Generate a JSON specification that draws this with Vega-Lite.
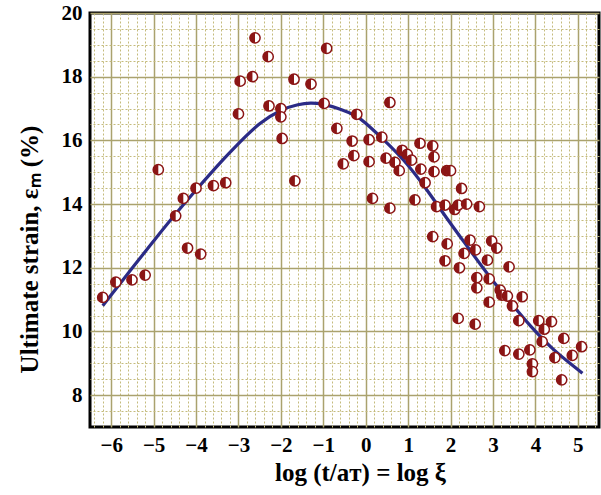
{
 "$schema": "https://vega.github.io/schema/vega-lite/v6.json",
 "width": 509, "height": 414,
 "autosize": {"type": "none"},
 "padding": {"left": 90, "top": 13, "right": 2, "bottom": 68},
 "background": "white",
 "config": {
  "view": {"stroke": "black", "strokeWidth": 3},
  "axis": {"labelFont": "Liberation Serif", "titleFont": "Liberation Serif", "labelFontWeight": "bold", "titleFontWeight": "bold", "labelColor": "black", "titleColor": "black"}
 },
 "datasets": {
  "pts": [
   {"x": -2.61, "y": 19.22}, {"x": -2.96, "y": 17.86}, {"x": -2.67, "y": 18.0}, {"x": -3.0, "y": 16.83},
   {"x": -4.89, "y": 15.08}, {"x": -4.0, "y": 14.5}, {"x": -3.59, "y": 14.58}, {"x": -3.3, "y": 14.67},
   {"x": -4.3, "y": 14.18}, {"x": -4.48, "y": 13.63}, {"x": -6.2, "y": 11.07}, {"x": -5.89, "y": 11.55},
   {"x": -5.51, "y": 11.62}, {"x": -5.2, "y": 11.77}, {"x": -4.2, "y": 12.62}, {"x": -3.89, "y": 12.43},
   {"x": -2.3, "y": 18.63}, {"x": -0.92, "y": 18.89}, {"x": -1.69, "y": 17.92}, {"x": -1.29, "y": 17.77},
   {"x": -2.28, "y": 17.08}, {"x": -2.0, "y": 17.0}, {"x": -2.0, "y": 16.74}, {"x": -0.98, "y": 17.16},
   {"x": 0.57, "y": 17.19}, {"x": -0.21, "y": 16.82}, {"x": -0.68, "y": 16.38}, {"x": -1.97, "y": 16.06},
   {"x": -0.32, "y": 15.98}, {"x": 0.08, "y": 16.02}, {"x": 0.38, "y": 16.1}, {"x": 1.28, "y": 15.91},
   {"x": -0.28, "y": 15.52}, {"x": -0.53, "y": 15.26}, {"x": 0.08, "y": 15.33}, {"x": 0.48, "y": 15.44},
   {"x": 0.86, "y": 15.69}, {"x": 0.98, "y": 15.56}, {"x": 1.08, "y": 15.38}, {"x": 0.69, "y": 15.31},
   {"x": 0.79, "y": 15.05}, {"x": 1.3, "y": 15.1}, {"x": -1.67, "y": 14.73}, {"x": 0.16, "y": 14.18},
   {"x": 1.16, "y": 14.13}, {"x": 0.57, "y": 13.87},
   {"x": 1.58, "y": 15.83}, {"x": 1.61, "y": 15.48}, {"x": 1.61, "y": 15.02}, {"x": 1.91, "y": 15.05},
   {"x": 2.0, "y": 15.05}, {"x": 1.4, "y": 14.67}, {"x": 2.26, "y": 14.49}, {"x": 1.67, "y": 13.92},
   {"x": 1.87, "y": 13.97}, {"x": 2.1, "y": 13.83}, {"x": 2.18, "y": 13.97}, {"x": 2.38, "y": 14.0},
   {"x": 2.68, "y": 13.92},
   {"x": 1.58, "y": 12.98}, {"x": 1.92, "y": 12.75}, {"x": 2.46, "y": 12.87}, {"x": 2.97, "y": 12.84},
   {"x": 3.09, "y": 12.62}, {"x": 2.32, "y": 12.45}, {"x": 2.59, "y": 12.56}, {"x": 1.87, "y": 12.22},
   {"x": 2.87, "y": 12.24}, {"x": 2.21, "y": 12.0}, {"x": 3.38, "y": 12.03}, {"x": 2.62, "y": 11.69},
   {"x": 2.91, "y": 11.65}, {"x": 2.62, "y": 11.37}, {"x": 3.17, "y": 11.3}, {"x": 3.21, "y": 11.14},
   {"x": 3.34, "y": 11.11}, {"x": 3.69, "y": 11.09}, {"x": 2.91, "y": 10.92}, {"x": 3.46, "y": 10.8},
   {"x": 2.18, "y": 10.41}, {"x": 2.58, "y": 10.23}, {"x": 3.61, "y": 10.34}, {"x": 4.08, "y": 10.34},
   {"x": 4.38, "y": 10.31}, {"x": 4.21, "y": 10.07}, {"x": 4.16, "y": 9.68}, {"x": 4.67, "y": 9.78},
   {"x": 5.09, "y": 9.52}, {"x": 4.87, "y": 9.25}, {"x": 4.46, "y": 9.18}, {"x": 3.28, "y": 9.4},
   {"x": 3.61, "y": 9.29}, {"x": 3.87, "y": 9.42}, {"x": 3.93, "y": 8.98}, {"x": 3.93, "y": 8.74},
   {"x": 4.62, "y": 8.48}
  ],
  "curve": [
   {"x": -6.2, "y": 10.81}, {"x": -5.6, "y": 11.83}, {"x": -5.0, "y": 12.84}, {"x": -4.6, "y": 13.5},
   {"x": -4.0, "y": 14.44}, {"x": -3.4, "y": 15.34}, {"x": -3.0, "y": 15.9}, {"x": -2.5, "y": 16.52},
   {"x": -2.0, "y": 16.94}, {"x": -1.6, "y": 17.12}, {"x": -1.3, "y": 17.17}, {"x": -1.0, "y": 17.13},
   {"x": -0.6, "y": 16.98}, {"x": -0.25, "y": 16.78}, {"x": 0.0, "y": 16.54}, {"x": 0.4, "y": 16.05},
   {"x": 0.9, "y": 15.37}, {"x": 1.4, "y": 14.52}, {"x": 1.9, "y": 13.58}, {"x": 2.4, "y": 12.66},
   {"x": 2.9, "y": 11.76}, {"x": 3.4, "y": 10.93}, {"x": 3.9, "y": 10.15}, {"x": 4.4, "y": 9.47},
   {"x": 4.8, "y": 9.02}, {"x": 5.11, "y": 8.69}
  ]
 },
 "layer": [
  {
   "data": {"name": "pts"},
   "mark": {"type": "point", "opacity": 0},
   "encoding": {
    "x": {"field": "x", "type": "quantitative", "scale": {"domain": [-6.5, 5.5], "nice": false, "zero": false},
     "axis": {"orient": "top", "values": [-6.4,-6.2,-5.8,-5.6,-5.4,-5.2,-4.8,-4.6,-4.4,-4.2,-3.8,-3.6,-3.4,-3.2,-2.8,-2.6,-2.4,-2.2,-1.8,-1.6,-1.4,-1.2,-0.8,-0.6,-0.4,-0.2,0.2,0.4,0.6,0.8,1.2,1.4,1.6,1.8,2.2,2.4,2.6,2.8,3.2,3.4,3.6,3.8,4.2,4.4,4.6,4.8,5.2,5.4],
      "grid": true, "gridColor": "#c4bb7c", "gridDash": [2, 2], "gridWidth": 1, "labels": false, "ticks": false, "domain": false, "title": null}},
    "y": {"field": "y", "type": "quantitative", "scale": {"domain": [7, 20], "nice": false, "zero": false},
     "axis": {"orient": "right", "values": [7.5,8.5,9,9.5,10.5,11,11.5,12.5,13,13.5,14.5,15,15.5,16.5,17,17.5,18.5,19,19.5],
      "grid": true, "gridColor": "#c4bb7c", "gridDash": [2, 2], "gridWidth": 1, "labels": false, "ticks": false, "domain": false, "title": null}}
   }
  },
  {
   "data": {"name": "pts"},
   "mark": {"type": "point", "opacity": 0},
   "encoding": {
    "x": {"field": "x", "type": "quantitative",
     "axis": {"orient": "bottom", "values": [-6,-5,-4,-3,-2,-1,0,1,2,3,4,5], "grid": true, "gridColor": "#aaa26e", "gridWidth": 1.5,
      "ticks": false, "domain": false, "labelFontSize": 21, "labelPadding": 7, "labelFlush": false,
      "title": "log (t/aᴛ) = log ξ", "titleFontSize": 25, "titlePadding": 5, "titleX": 270}},
    "y": {"field": "y", "type": "quantitative",
     "axis": {"orient": "left", "values": [8,10,12,14,16,18,20], "grid": true, "gridColor": "#aaa26e", "gridWidth": 1.5,
      "ticks": false, "domain": false, "labelFontSize": 21, "labelPadding": 8, "labelFlush": false,
      "title": "Ultimate strain,  εₘ (%)", "titleFontSize": 25, "titlePadding": 19, "titleY": 236}}
   }
  },
  {
   "data": {"name": "curve"},
   "mark": {"type": "line", "color": "#2b2b86", "strokeWidth": 3.2, "interpolate": "natural"},
   "encoding": {
    "x": {"field": "x", "type": "quantitative", "axis": null},
    "y": {"field": "y", "type": "quantitative", "axis": null}
   }
  },
  {
   "data": {"name": "pts"},
   "mark": {"type": "point", "shape": "circle", "filled": true, "fill": "white", "stroke": "#8b1515", "strokeWidth": 1.5, "size": 105, "opacity": 1},
   "encoding": {
    "x": {"field": "x", "type": "quantitative", "axis": null},
    "y": {"field": "y", "type": "quantitative", "axis": null}
   }
  },
  {
   "data": {"name": "pts"},
   "mark": {"type": "point", "shape": "M0,-1A1,1 0 0 0 0,1Z", "filled": true, "fill": "#8b1515", "strokeWidth": 0, "size": 105, "opacity": 1},
   "encoding": {
    "x": {"field": "x", "type": "quantitative", "axis": null},
    "y": {"field": "y", "type": "quantitative", "axis": null}
   }
  }
 ],
 "resolve": {"axis": {"x": "independent", "y": "independent"}}
}
